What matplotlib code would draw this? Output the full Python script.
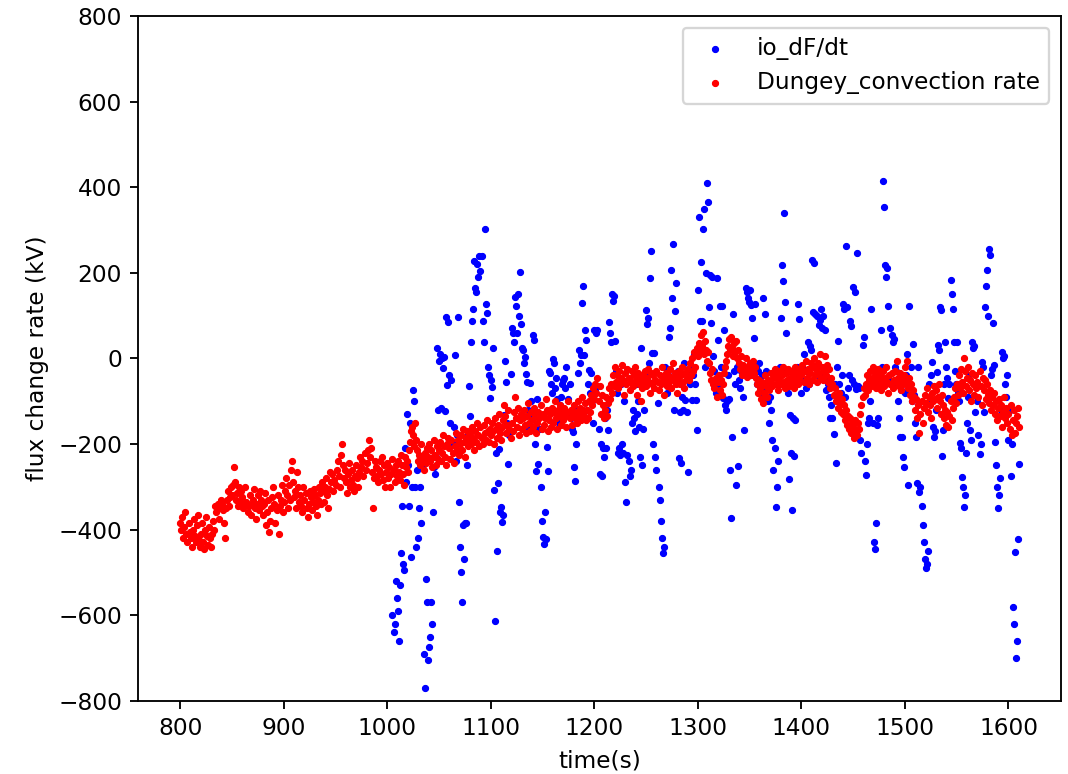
import matplotlib
matplotlib.use("Agg")
import matplotlib.pyplot as plt
import numpy as np

# Dungey convection rate (kV), one value per second from t = 800 s
dungey_start = 800
dungey_rate = [
    -385, -400, -370, -420, -395, -360, -410, -430, -385, -405,  # 800
    -420, -440, -400, -375, -415, -430, -390, -365, -425, -440,  # 810
    -410, -385, -430, -445, -400, -370, -415, -435, -395, -420,  # 820
    -440, -410, -380, -400, -345, -360, -340, -375, -350, -330,  # 830
    -340, -355, -385, -420, -350, -330, -310, -345, -325, -300,  # 840
    -320, -295, -255, -290, -330, -315, -345, -300, -335, -310,  # 850
    -325, -350, -340, -300, -335, -360, -345, -320, -365, -340,  # 860
    -330, -305, -350, -375, -340, -320, -355, -310, -330, -345,  # 870
    -365, -340, -315, -390, -360, -330, -405, -380, -350, -325,  # 880
    -300, -340, -385, -355, -320, -410, -345, -330, -295, -360,  # 890
    -335, -310, -280, -320, -350, -295, -330, -260, -240, -290,  # 900
    -325, -310, -350, -265, -300, -335, -320, -345, -360, -300,  # 910
    -330, -315, -350, -370, -340, -310, -325, -355, -335, -305,  # 920
    -320, -345, -365, -330, -300, -315, -340, -290, -310, -335,  # 930
    -300, -280, -320, -350, -305, -265, -290, -270, -310, -285,  # 940
    -295, -260, -240, -275, -300, -225, -200, -250, -280, -260,  # 950
    -290, -315, -270, -245, -300, -285, -260, -295, -310, -275,  # 960
    -250, -280, -300, -265, -230, -255, -240, -275, -220, -260,  # 970
    -245, -215, -190, -230, -210, -265, -350, -280, -240, -255,  # 980
    -275, -290, -260, -240, -270, -230, -285, -250, -300, -265,  # 990
    -245, -280, -255, -300, -270, -235, -260, -290, -250, -275,  # 1000
    -240, -265, -285, -225, -250, -270, -295, -230, -255, -240,  # 1010
    -265, -215, -195, -170, -160, -180, -205, -150, -190, -215,  # 1020
    -240, -225, -250, -200, -235, -260, -220, -245, -210, -230,  # 1030
    -200, -240, -215, -255, -230, -190, -225, -250, -205, -235,  # 1040
    -215, -195, -240, -220, -180, -205, -230, -250, -200, -185,  # 1050
    -210, -235, -190, -220, -245, -205, -175, -215, -190, -225,  # 1060
    -200, -180, -215, -165, -195, -230, -185, -170, -205, -190,  # 1070
    -175, -200, -160, -185, -215, -170, -195, -150, -180, -205,  # 1080
    -160, -185, -200, -155, -175, -190, -145, -170, -195, -165,  # 1090
    -180, -150, -170, -200, -140, -165, -185, -155, -130, -175,  # 1100
    -190, -160, -145, -110, -135, -175, -155, -120, -165, -185,  # 1110
    -150, -170, -125, -90, -140, -160, -115, -180, -145, -130,  # 1120
    -165, -140, -120, -155, -175, -135, -105, -150, -170, -125,  # 1130
    -145, -160, -115, -135, -175, -150, -125, -140, -110, -165,  # 1140
    -130, -155, -140, -95, -120, -170, -145, -130, -160, -115,  # 1150
    -150, -125, -100, -140, -165, -120, -135, -110, -155, -130,  # 1160
    -145, -115, -135, -160, -125, -100, -140, -120, -155, -130,  # 1170
    -110, -140, -125, -150, -100, -130, -115, -145, -90, -120,  # 1180
    -135, -105, -145, -120, -140, -100, -125, -85, -110, -70,  # 1190
    -95, -60, -80, -45, -100, -65, -130, -85, -110, -140,  # 1200
    -120, -90, -135, -105, -70, -95, -60, -80, -40, -65,  # 1210
    -20, -55, -40, -70, -30, -60, -45, -15, -50, -85,  # 1220
    -35, -60, -25, -45, -75, -55, -30, -65, -40, -20,  # 1230
    -50, -85, -35, -60, -45, -100, -70, -40, -55, -30,  # 1240
    -65, -45, -25, -55, -80, -35, -60, -40, -70, -50,  # 1250
    -30, -55, -75, -40, -60, -20, -45, -85, -50, -35,  # 1260
    -65, -40, -55, -25, -70, -45, -10, -50, -35, -60,  # 1270
    -80, -45, -30, -60, -40, -20, -55, -70, -35, -45,  # 1280
    -25, -50, -10, -40, 0, -30, 15, -20, 10, 25,  # 1290
    5, 35, 20, 55, 30, 62, 10, 40, 20, -5,  # 1300
    15, -10, -35, -50, -25, -60, -70, -45, -90, -55,  # 1310
    -40, -75, -50, -85, -60, -35, -20, -5, 10, 30,  # 1320
    45, 20, 50, 25, 5, 35, 15, 40, 0, 20,  # 1330
    -10, -25, 5, -40, -15, -30, 0, -43, -20, -35,  # 1340
    -10, -40, -25, -5, -35, -20, -45, -60, -80, -50,  # 1350
    -70, -95, -55, -105, -80, -40, -65, -90, -50, -75,  # 1360
    -55, -35, -65, -45, -25, -60, -40, -75, -50, -30,  # 1370
    -60, -40, -20, -55, -70, -35, -50, -25, -65, -45,  # 1380
    -30, -55, -40, -70, -20, -50, -35, -60, -45, -25,  # 1390
    -40, -15, -55, -30, -5, -45, -25, -60, -35, -10,  # 1400
    -50, -20, 0, -40, -25, -55, -10, -35, 10, -45,  # 1410
    -20, -50, -30, 5, -40, -15, -55, -25, -70, -45,  # 1420
    -60, -85, -70, -100, -90, -115, -80, -105, -125, -95,  # 1430
    -130, -110, -145, -120, -155, -135, -165, -140, -175, -150,  # 1440
    -160, -185, -145, -170, -180, -150, -165, -130, -110, -90,  # 1450
    -70, -85, -60, -40, -75, -50, -30, -65, -45, -20,  # 1460
    -55, -35, -70, -45, -25, -60, -40, -75, -50, -30,  # 1470
    -65, -45, -20, -55, -80, -40, -60, -35, -70, -50,  # 1480
    -30, -55, -5, -45, -65, -35, -75, -50, -60, -40,  # 1490
    -20, -55, -5, -70, -45, -85, -60, -100, -75, -90,  # 1500
    -120, -95, -140, -110, -175, -130, -100, -150, -115, -85,  # 1510
    -105, -70, -125, -90, -110, -140, -80, -100, -65, -95,  # 1520
    -75, -115, -90, -60, -100, -130, -85, -110, -140, -120,  # 1530
    -155, -125, -160, -135, -100, -145, -115, -90, -70, -105,  # 1540
    -60, -85, -40, -70, -25, -55, -80, 0, -30, -65,  # 1550
    -45, -20, -75, -50, -100, -35, -60, -85, -40, -70,  # 1560
    -55, -90, -30, -65, -110, -45, -75, -50, -95, -60,  # 1570
    -85, -105, -75, -120, -90, -110, -80, -130, -100, -145,  # 1580
    -115, -95, -135, -110, -160, -125, -90, -140, -115, -150,  # 1590
    -130, -165, -110, -180, -145, -120, -175, -150, -135, -115,  # 1600
    -160,  # 1610
]

# ionospheric dF/dt (kV), one value per second from t = 1005 s
io_start = 1005
io_dfdt = [
    -600, -640, -620, -520, -560,  # 1005
    -590, -660, -530, -455, -345, -480, -495, -210, -290, -130,  # 1010
    -250, -345, -150, -465, -300, -75, -100, -300, -440, -260,  # 1020
    -420, -350, -300, -385, -250, -690, -770, -515, -570, -705,  # 1030
    -675, -650, -570, -620, -360, -255, -270, -230, 25, -120,  # 1040
    -5, 10, -117, 0, -23, 3, -122, 97, -62, 85,  # 1050
    -40, -150, -50, -200, -160, 8, -240, -180, 97, -335,  # 1060
    -440, -500, -569, -390, -470, -385, -385, -250, -180, -64,  # 1070
    -135, 38, 87, 116, 228, 164, 155, 220, 190, 240,  # 1080
    205, 240, 87, 38, 302, 127, 105, -20, -40, -92,  # 1090
    -50, -68, 24, -307, -614, -220, -450, -291, -212, -360,  # 1100
    -347, -383, -366, -133, -6, -55, -150, -247, -180, -36,  # 1110
    70, 60, 38, 143, 122, 60, 150, 100, 202, 80,  # 1120
    24, 20, -10, 3, -36, -55, -120, -163, -57, -100,  # 1130
    -140, 55, 43, -200, -263, -95, -247, -166, -300, -380,  # 1140
    -417, -433, -360, -423, -207, -263, -29, -35, -60, -80,  # 1150
    -2, -12, -70, -45, -95, -130, -150, -110, -90, -60,  # 1160
    -50, -45, -70, -20, -130, -95, -60, -140, -166, -172,  # 1170
    -254, -287, -200, -120, -35, 20, -10, 7, 130, 168,  # 1180
    7, 66, 43, -120, -60, -27, -80, -35, -100, -150,  # 1190
    66, -75, 60, 66, -166, -270, -200, -275, -210, -230,  # 1200
    -140, -210, -120, -168, 85, 60, 38, 150, 135, 145,  # 1210
    40, -30, -80, -220, -210, -225, -60, -200, -220, -100,  # 1220
    -290, -335, -225, -240, -275, -260, -150, -120, -140, -170,  # 1230
    -60, -130, -100, -160, -230, 24, -250, -165, -120, -40,  # 1240
    113, 80, 95, -10, 187, 250, 12, -200, 12, -230,  # 1250
    -260, -105, -300, -330, -380, -420, -455, -440, -20, -60,  # 1260
    -80, -40, 50, 70, 206, 141, 267, -120, 111, 177,  # 1270
    -50, -30, -233, -125, -245, -90, -120, -10, -97, -125,  # 1280
    -265, -30, -60, -20, -97, -40, 10, -60, -97, -168,  # 1290
    160, 330, 87, 225, 87, 302, 350, -20, 200, 410,  # 1300
    366, 120, 195, 83, 190, 5, -30, -80, 187, 43,  # 1310
    -60, 122, -20, 122, -93, 66, -110, -120, -100, -40,  # 1320
    -95, -260, -374, -184, 104, -30, -60, -296, -20, -252,  # 1330
    -50, -70, -30, -20, -90, -168, 164, 155, 140, 131,  # 1340
    160, 125, 95, -40, 48, 128, -20, -60, -30, -10,  # 1350
    -50, -80, -40, 141, -70, 104, -30, -60, -100, -150,  # 1360
    -90, -120, -190, -260, -210, -347, -300, -240, -60, -20,  # 1370
    94, 218, 180, 340, 131, 60, -30, -80, -282, -133,  # 1380
    -222, -354, -140, -227, -145, -60, -20, 126, 92, -40,  # 1390
    -80, -20, 10, -50, -70, -30, 38, -60, 28, 20,  # 1400
    230, 108, 222, 104, -20, 100, -40, 77, 90, 115,  # 1410
    70, 100, -35, 66, -75, -45, -60, -90, -140, -110,  # 1420
    -139, -177, -60, -245, -20, 40, -60, -100, -80, -40,  # 1430
    127, 115, -90, 262, 120, -70, -40, 87, 75, -50,  # 1440
    166, -60, 155, -72, 246, -65, -70, -190, -220, 31,  # 1450
    50, -240, -272, -200, -150, -139, -100, 115, -60, -150,  # 1460
    -430, -445, -385, -155, -139, -40, -60, 66, -20, 414,  # 1470
    354, 218, 190, 210, 122, -50, 70, 55, 38, 45,  # 1480
    -20, -30, -60, -100, -139, -184, -74, -184, -231, -255,  # 1490
    -80, -40, 10, -296, 122, -60, -20, -100, 33, -86,  # 1500
    -150, -184, -292, -20, -313, -300, -345, -390, -430, -470,  # 1510
    -490, -480, -450, -60, -100, -40, -8, -160, -184, -170,  # 1520
    -120, -31, 31, 20, 120, 113, -228, -168, -60, 38,  # 1530
    -20, -46, -92, -60, 183, 150, 115, 38, -30, -60,  # 1540
    38, -80, -100, -198, -210, -278, -300, -347, -320, -222,  # 1550
    -150, -90, -40, -168, -190, 38, 24, 30, -125, -60,  # 1560
    -100, -180, -224, -200, -8, -20, -125, 120, 170, 206,  # 1570
    100, 255, 241, -40, -25, 83, -15, -195, -250, -300,  # 1580
    -350, -320, -280, -120, 15, 0, 5, -60, -90, -40,  # 1590
    -190, -120, -275, -200, -580, -620, -452, -700, -660, -422,  # 1600
    -247,  # 1610
]

dungey_time = np.arange(dungey_start, dungey_start + len(dungey_rate))
io_time = np.arange(io_start, io_start + len(io_dfdt))

plt.figure(figsize=(6.4, 774 / 167), dpi=167)
plt.subplots_adjust(left=0.1294, right=0.9925, bottom=0.0947, top=0.9793)

plt.scatter(io_time, io_dfdt, s=4.5, c='blue', label='io_dF/dt')
plt.scatter(dungey_time, dungey_rate, s=4.5, c='red', label='Dungey_convection rate')

plt.ylim(-800, 800)
plt.xlabel('time(s)')
plt.ylabel('flux change rate (kV)')
plt.legend(loc='upper right')

plt.savefig('out.png', dpi=167)
plt.close()
